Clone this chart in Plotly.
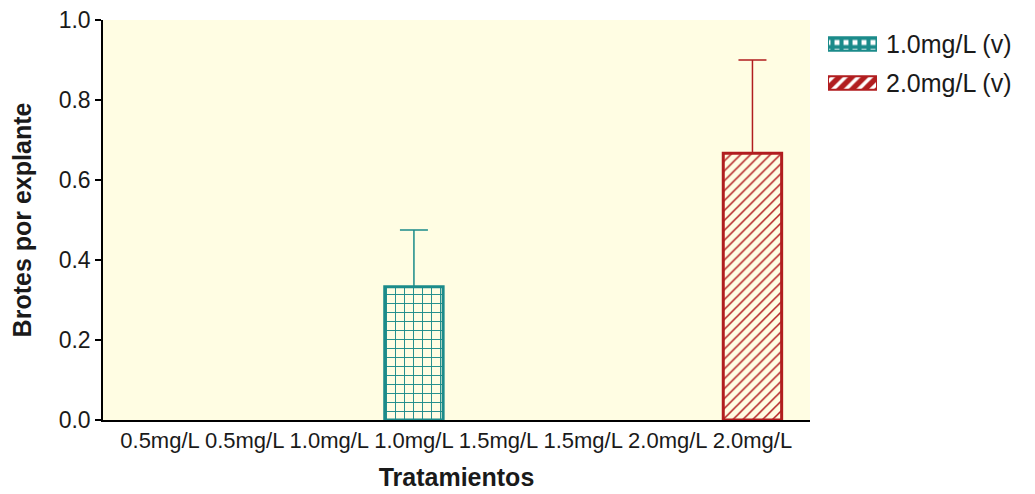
import plotly.graph_objects as go

categories = ["0.5mg/L", "0.5mg/L", "1.0mg/L", "1.0mg/L", "1.5mg/L", "1.5mg/L", "2.0mg/L", "2.0mg/L"]
positions = list(range(len(categories)))

series_names = ["1.0mg/L (v)", "2.0mg/L (v)"]
values_1 = [None, None, None, 0.333, None, None, None, None]
errors_1 = [None, None, None, 0.142, None, None, None, None]
values_2 = [None, None, None, None, None, None, None, 0.667]
errors_2 = [None, None, None, None, None, None, None, 0.233]

y_ticks = [0.0, 0.2, 0.4, 0.6, 0.8, 1.0]

TEAL = "#1b8b8a"
RED = "#b11d1f"
BG = "#fffde3"
TXT = "#1a1a1a"
FONT = "Liberation Sans, Arial, sans-serif"

fig = go.Figure()


def add_series(name, vals, errs, color, shape, size, solidity):
    xs = [p for p, v in zip(positions, vals) if v is not None]
    ys = [v for v in vals if v is not None]
    es = [e for v, e in zip(vals, errs) if v is not None]
    fig.add_trace(go.Bar(
        x=xs, y=ys, name=name, width=0.69, showlegend=False,
        marker=dict(color=BG, line=dict(color=color, width=3),
                    pattern=dict(shape=shape, fgcolor=color, bgcolor=BG, fgopacity=1,
                                 size=size, solidity=solidity, fillmode="overlay")),
        error_y=dict(type="data", symmetric=False, array=es,
                     arrayminus=[0] * len(es), color=color,
                     thickness=1.5, width=14),
    ))


add_series(series_names[0], values_1, errors_1, TEAL, "+", 9, 0.2)
add_series(series_names[1], values_2, errors_2, RED, "/", 7, 0.22)

# legend swatches drawn on a small auxiliary axis (legend key)
legend_styles = [(TEAL, "+", 9, 0.7), (RED, "/", 9, 0.6)]
for i, (name, (color, shape, size, sol)) in enumerate(zip(series_names, legend_styles)):
    fig.add_trace(go.Bar(
        x=[1], y=[i], orientation="h", width=0.34, showlegend=False,
        xaxis="x2", yaxis="y2", hoverinfo="skip",
        marker=dict(color="white", line=dict(color=color, width=2),
                    pattern=dict(shape=shape, fgcolor=color, bgcolor="white", fgopacity=1,
                                 size=size, solidity=sol, fillmode="overlay")),
    ))

fig.update_layout(
    width=1027, height=486,
    paper_bgcolor="white", plot_bgcolor="white",
    margin=dict(l=95, r=5, t=12, b=74),
    barmode="overlay",
    font=dict(family=FONT, color=TXT),
    showlegend=False,
    xaxis=dict(
        domain=[0, 0.76268],
        range=[-0.674, 7.68], tickmode="array", tickvals=positions, ticktext=categories,
        showline=True, linecolor="black", linewidth=1.5, ticks="", showgrid=False,
        zeroline=False, automargin=False,
        tickfont=dict(size=22, family=FONT, color=TXT),
        title=dict(text="<b>Tratamientos</b>", font=dict(size=25, family=FONT, color=TXT), standoff=16),
    ),
    yaxis=dict(
        range=[0, 1.0], tickmode="array", tickvals=y_ticks,
        ticktext=[f"{v:.1f}" for v in y_ticks],
        showline=True, linecolor="black", linewidth=1.5, ticks="outside", ticklen=6,
        tickwidth=1.5, tickcolor="black", showgrid=False, zeroline=False, automargin=False,
        ticklabeloverflow="allow",
        tickfont=dict(size=23, family=FONT, color=TXT),
        title=dict(text="<b>Brotes por explante</b>", font=dict(size=25, family=FONT, color=TXT), standoff=20),
    ),
    xaxis2=dict(domain=[0.78209, 0.83495], anchor="y2", range=[0, 1], visible=False),
    yaxis2=dict(domain=[0.79375, 0.98875], anchor="x2", range=[1.5, -0.5], side="right",
                tickmode="array", tickvals=[0, 1], ticktext=series_names,
                showline=False, showgrid=False, zeroline=False, ticks="",
                ticklabelstandoff=8, automargin=False,
                tickfont=dict(size=25, family=FONT, color=TXT)),
    shapes=[dict(type="rect", xref="x domain", yref="y domain", x0=0, x1=1, y0=0, y1=1,
                 fillcolor=BG, line=dict(width=0), layer="below")],
)

fig.write_html("out.html")
